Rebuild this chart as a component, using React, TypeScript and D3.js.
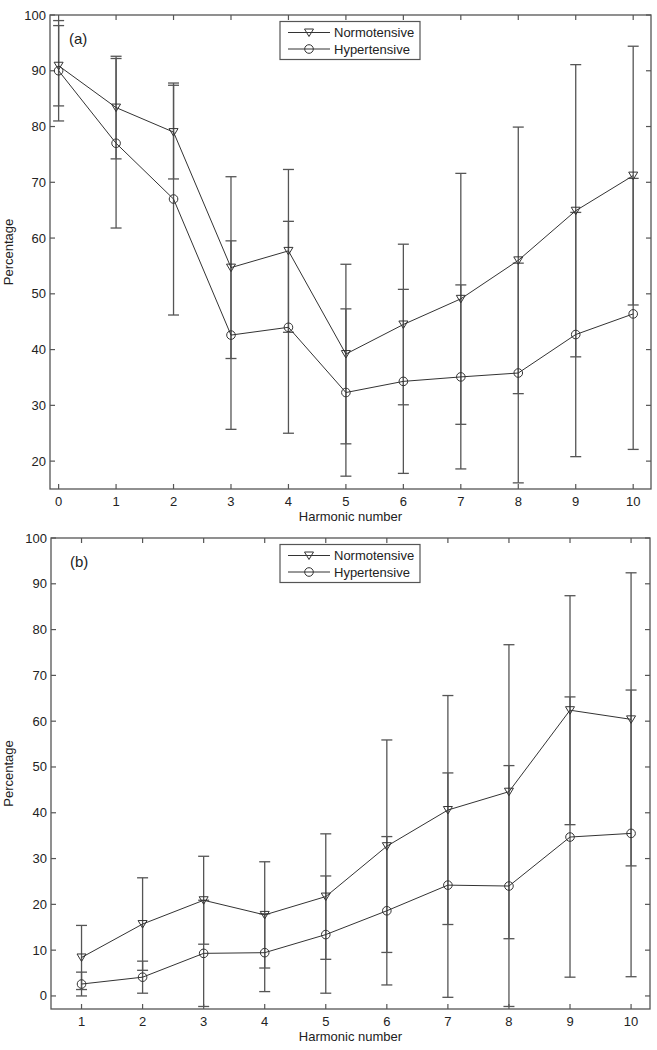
import * as d3 from 'd3';

// panel (a): harmonics 0..10
const harmonicsA = [0, 1, 2, 3, 4, 5, 6, 7, 8, 9, 10];
const normoMeanA = [90.9, 83.4, 79.0, 54.7, 57.7, 39.2, 44.5, 49.1, 56.0, 64.9, 71.2];
const normoSdA = [7.2, 9.2, 8.4, 16.3, 14.6, 16.1, 14.4, 22.5, 23.9, 26.2, 23.2];
const hyperMeanA = [90.0, 77.0, 67.0, 42.6, 44.0, 32.3, 34.3, 35.1, 35.8, 42.7, 46.4];
const hyperSdA = [9.0, 15.2, 20.8, 16.9, 19.0, 15.0, 16.5, 16.5, 19.7, 21.9, 24.3];
const yTicksA = [20, 30, 40, 50, 60, 70, 80, 90, 100];

// panel (b): harmonics 1..10
const harmonicsB = [1, 2, 3, 4, 5, 6, 7, 8, 9, 10];
const normoMeanB = [8.4, 15.7, 20.9, 17.7, 21.7, 32.7, 40.6, 44.6, 62.4, 60.4];
const normoSdB = [7.0, 10.1, 9.6, 11.6, 13.7, 23.2, 25.0, 32.1, 25.0, 32.0];
const hyperMeanB = [2.6, 4.1, 9.3, 9.45, 13.4, 18.6, 24.2, 24.0, 34.7, 35.5];
const hyperSdB = [2.6, 3.5, 11.6, 8.5, 12.8, 16.2, 24.5, 26.3, 30.6, 31.3];
const yTicksB = [0, 10, 20, 30, 40, 50, 60, 70, 80, 90, 100];

const seriesNames = ['Normotensive', 'Hypertensive'];

const FONT = '"Liberation Sans", Arial, Helvetica, sans-serif';
const AXIS = '#555';
const LINE = '#333';
const BAR = '#555';

const triPath = 'M-4.5,-3.5 L4.5,-3.5 L0,4 Z';

interface PanelProps {
  tag: string;
  x: number[];
  xDomain: [number, number];
  yDomain: [number, number];
  yTicks: number[];
  left: number;
  right: number;
  top: number;
  bottom: number;
  normMean: number[];
  normSd: number[];
  hypMean: number[];
  hypSd: number[];
}

const Marker = ({ kind, cx, cy }: { kind: number; cx: number; cy: number }) =>
  kind === 0 ? (
    <path d={triPath} transform={`translate(${cx},${cy})`} fill="none" stroke={LINE} strokeWidth={1} />
  ) : (
    <circle cx={cx} cy={cy} r={4.3} fill="none" stroke={LINE} strokeWidth={1} />
  );

const Panel = (p: PanelProps) => {
  const xs = d3.scaleLinear().domain(p.xDomain).range([p.left, p.right]);
  const ys = d3.scaleLinear().domain(p.yDomain).range([p.bottom, p.top]);
  const line = d3
    .line<[number, number]>()
    .x((d) => xs(d[0]))
    .y((d) => ys(d[1]));
  const series = [
    { mean: p.normMean, sd: p.normSd },
    { mean: p.hypMean, sd: p.hypSd },
  ];
  const tl = 5;
  const cap = 5.5;
  const lgX = 280;
  const lgY = p.top + 6.5;

  return (
    <g>
      <rect x={p.left} y={p.top} width={p.right - p.left} height={p.bottom - p.top} fill="#fff" stroke={AXIS} strokeWidth={1.3} />
      {/* ticks, inward on all sides */}
      {p.x.map((v) => (
        <g key={'xt' + v}>
          <line x1={xs(v)} x2={xs(v)} y1={p.bottom} y2={p.bottom - tl} stroke={AXIS} strokeWidth={1.2} />
          <line x1={xs(v)} x2={xs(v)} y1={p.top} y2={p.top + tl} stroke={AXIS} strokeWidth={1.2} />
          <text x={xs(v)} y={p.bottom + 17} textAnchor="middle" fontSize={13} fontFamily={FONT} fill="#222">
            {v}
          </text>
        </g>
      ))}
      {p.yTicks.map((v) => (
        <g key={'yt' + v}>
          <line x1={p.left} x2={p.left + tl} y1={ys(v)} y2={ys(v)} stroke={AXIS} strokeWidth={1.2} />
          <line x1={p.right} x2={p.right - tl} y1={ys(v)} y2={ys(v)} stroke={AXIS} strokeWidth={1.2} />
          <text x={p.left - 4} y={ys(v) + 4.5} textAnchor="end" fontSize={13} fontFamily={FONT} fill="#222">
            {v}
          </text>
        </g>
      ))}
      <text x={(p.left + p.right) / 2} y={p.bottom + 32} textAnchor="middle" fontSize={13} fontFamily={FONT} fill="#222">
        Harmonic number
      </text>
      <text
        transform={`translate(13,${(p.top + p.bottom) / 2}) rotate(-90)`}
        textAnchor="middle"
        fontSize={13}
        fontFamily={FONT}
        fill="#222"
      >
        Percentage
      </text>
      <text x={p.left + 19} y={p.top + 29} fontSize={15} fontFamily={FONT} fill="#222">
        {p.tag}
      </text>
      {/* error bars */}
      {series.map((s, si) =>
        p.x.map((v, i) => {
          const cx = xs(v);
          const hi = ys(s.mean[i] + s.sd[i]);
          const lo = ys(s.mean[i] - s.sd[i]);
          return (
            <g key={`eb${si}-${i}`} stroke={BAR} strokeWidth={1.3}>
              <line x1={cx} x2={cx} y1={hi} y2={lo} />
              <line x1={cx - cap} x2={cx + cap} y1={hi} y2={hi} />
              <line x1={cx - cap} x2={cx + cap} y1={lo} y2={lo} />
            </g>
          );
        })
      )}
      {series.map((s, si) => (
        <path
          key={'ln' + si}
          d={line(p.x.map((v, i) => [v, s.mean[i]] as [number, number])) || ''}
          fill="none"
          stroke={LINE}
          strokeWidth={1}
        />
      ))}
      {series.map((s, si) =>
        p.x.map((v, i) => <Marker key={`mk${si}-${i}`} kind={si} cx={xs(v)} cy={ys(s.mean[i])} />)
      )}
      {/* legend */}
      <rect x={lgX} y={lgY} width={140} height={38} fill="#fff" stroke={AXIS} strokeWidth={1.2} />
      {seriesNames.map((name, si) => {
        const yy = lgY + 11 + si * 16.5;
        return (
          <g key={'lg' + si}>
            <line x1={lgX + 8} x2={lgX + 50} y1={yy} y2={yy} stroke={LINE} strokeWidth={1} />
            <Marker kind={si} cx={lgX + 29} cy={yy} />
            <text x={lgX + 54} y={yy + 4.5} fontSize={13} fontFamily={FONT} fill="#222">
              {name}
            </text>
          </g>
        );
      })}
    </g>
  );
};

const App = () => (
  <svg width={657} height={1050} style={{ position: 'absolute', left: 0, top: 0, background: '#fff' }}>
    <rect width={657} height={1050} fill="#fff" />
    <Panel
      tag="(a)"
      x={harmonicsA}
      xDomain={[-0.15, 10.31]}
      yDomain={[15, 100]}
      yTicks={yTicksA}
      left={50}
      right={651}
      top={15}
      bottom={489}
      normMean={normoMeanA}
      normSd={normoSdA}
      hypMean={hyperMeanA}
      hypSd={hyperSdA}
    />
    <Panel
      tag="(b)"
      x={harmonicsB}
      xDomain={[0.5, 10.31]}
      yDomain={[-2.85, 100]}
      yTicks={yTicksB}
      left={51}
      right={650}
      top={538}
      bottom={1009}
      normMean={normoMeanB}
      normSd={normoSdB}
      hypMean={hyperMeanB}
      hypSd={hyperSdB}
    />
  </svg>
);

export default App;
